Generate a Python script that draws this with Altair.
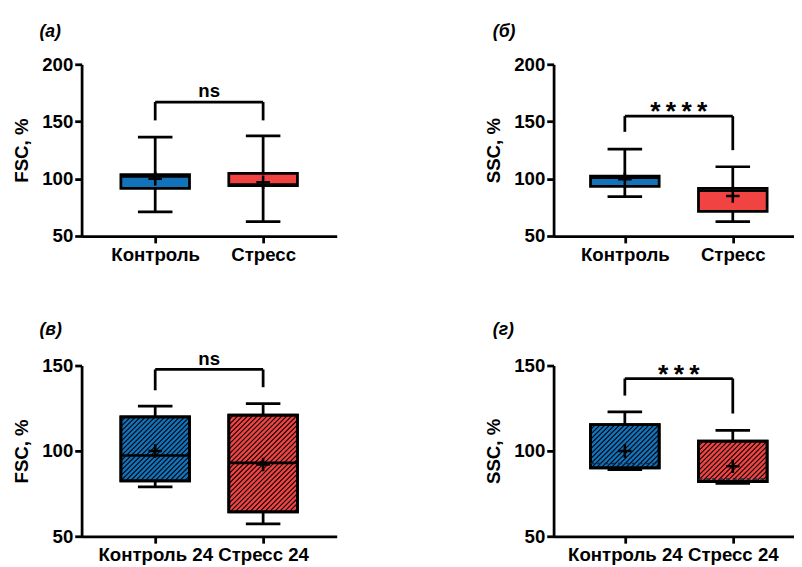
import altair as alt
import pandas as pd

# ---------------- data ----------------
names_ab = ["Контроль", "Стресс"]
names_cd = ["Контроль 24", "Стресс 24"]

# panel (a) FSC
a_lo = [71.0, 62.5]
a_q1 = [91.6, 94.0]
a_med = [102.0, 95.0]
a_q3 = [103.6, 104.7]
a_hi = [136.3, 137.5]
a_mean = [100.0, 97.0]

# panel (б) SSC
b_lo = [84.3, 62.5]
b_q1 = [93.3, 71.5]
b_med = [101.0, 89.5]
b_q3 = [102.3, 91.6]
b_hi = [126.0, 110.5]
b_mean = [99.5, 85.0]

# panel (в) FSC 24
c_lo = [79.0, 57.3]
c_q1 = [82.5, 64.3]
c_med = [97.3, 93.0]
c_q3 = [120.0, 121.0]
c_hi = [126.2, 127.7]
c_mean = [100.0, 92.0]

# panel (г) SSC 24
d_lo = [89.0, 81.0]
d_q1 = [90.0, 82.0]
d_med = [92.6, 83.6]
d_q3 = [115.4, 105.7]
d_hi = [122.9, 112.0]
d_mean = [100.0, 91.0]

# significance brackets: [bracket level, left leg end, right leg end, text baseline level]
a_sig = [167.0, 151.0, 151.0, 171.2]
b_sig = [154.7, 141.0, 125.0, 151.2]
c_sig = [147.7, 135.5, 137.3, 150.6]
d_sig = [142.4, 132.4, 121.9, 140.0]
sig_text = ["ns", "*\u2009*\u2009*\u2009*", "ns", "*\u2009*\u2009*"]
sig_size = [19, 27, 19, 27]

panel_labels = ["(a)", "(б)", "(в)", "(г)"]
y_titles = ["FSC, %", "SSC, %", "FSC, %", "SSC, %"]

BLUE = "#1272BA"
RED = "#F24343"
FONT = "Liberation Sans"

HW = 0.318   # box half width (x units)
CW = 0.16    # cap half width
PPX = 110.0  # px per x unit


def hatch_segments(q1, q3, ppy, spacing=5.0):
    rows = []
    for i in range(2):
        W = 2 * HW * PPX
        H = (q3[i] - q1[i]) * ppy
        c = -H
        while c < W:
            u0 = max(0.0, c)
            u1 = min(W, H + c)
            if u1 - u0 > 0.5:
                rows.append({
                    "x": i - HW + u0 / PPX,
                    "y": q1[i] + (u0 - c) / ppy,
                    "x2": i - HW + u1 / PPX,
                    "y2": q1[i] + (u1 - c) / ppy,
                })
            c += spacing
    return pd.DataFrame(rows)


def panel(names, lo, q1, med, q3, hi, mean, sig, txt, tsize, label, ytitle,
          ydom, yvals, width, height, xdom, title_dx, title_off,
          hatched, dashed_median):
    df = pd.DataFrame({"name": names, "xi": [0, 1], "lo": lo, "q1": q1,
                       "med": med, "q3": q3, "hi": hi, "mean": mean})
    lab0, lab1 = names
    xaxis = alt.Axis(values=[0, 1], title=None, grid=False, labelOverlap=False,
                     labelExpr=f"datum.value == 0 ? '{lab0}' : '{lab1}'")
    yaxis = alt.Axis(values=yvals, title=ytitle, grid=False, labelOverlap=False)
    xs = alt.Scale(domain=xdom, nice=False, zero=False)
    ys = alt.Scale(domain=ydom, nice=False, zero=False)

    def X(f):
        return alt.X(f, type="quantitative", scale=xs, axis=xaxis)

    def Y(f):
        return alt.Y(f, type="quantitative", scale=ys, axis=yaxis)

    base = alt.Chart(df).transform_calculate(
        xa=f"datum.xi - {HW}", xb=f"datum.xi + {HW}",
        ca=f"datum.xi - {CW}", cb=f"datum.xi + {CW}")

    rule = dict(color="black", strokeWidth=2.8)
    w_lo = base.mark_rule(**rule).encode(x=X("xi"), y=Y("lo"), y2="q1:Q")
    w_hi = base.mark_rule(**rule).encode(x=X("xi"), y=Y("q3"), y2="hi:Q")
    c_lo_ = base.mark_rule(**rule).encode(x=X("ca"), x2="cb:Q", y=Y("lo"))
    c_hi_ = base.mark_rule(**rule).encode(x=X("ca"), x2="cb:Q", y=Y("hi"))
    box = base.mark_rect(stroke="black", strokeWidth=2.8).encode(
        x=X("xa"), x2="xb:Q", y=Y("q1"), y2="q3:Q",
        color=alt.Color("name:N", scale=alt.Scale(domain=names, range=[BLUE, RED]),
                        legend=None))
    layers = [w_lo, w_hi, c_lo_, c_hi_, box]
    if hatched:
        hd = hatch_segments(q1, q3, height / (ydom[1] - ydom[0]))
        layers.append(alt.Chart(hd).mark_rule(color="black", strokeWidth=1.1).encode(
            x=X("x"), y=Y("y"), x2="x2:Q", y2="y2:Q"))
        layers.append(base.mark_rect(stroke="black", strokeWidth=2.8, fillOpacity=0).encode(
            x=X("xa"), x2="xb:Q", y=Y("q1"), y2="q3:Q"))
    if dashed_median:
        med_mark = base.mark_rule(color="#0d2a4a", strokeWidth=1.6, strokeDash=[4, 3])
    else:
        med_mark = base.mark_rule(color="black", strokeWidth=2.6)
    layers.append(med_mark.encode(x=X("xa"), x2="xb:Q", y=Y("med")))
    layers.append(base.mark_point(shape="M-1,0H1M0,-1V1", size=190, filled=False,
                                  color="black", strokeWidth=2.6, opacity=1).encode(
        x=X("xi"), y=Y("mean")))

    br = pd.DataFrame({"x": [0, 0, 1], "x2": [0, 1, 1],
                       "y": [sig[1], sig[0], sig[2]], "y2": [sig[0], sig[0], sig[0]]})
    layers.append(alt.Chart(br).mark_rule(color="black", strokeWidth=2.8).encode(
        x=X("x"), x2="x2:Q", y=Y("y"), y2="y2:Q"))
    tdf = pd.DataFrame({"x": [0.5], "y": [sig[3]], "t": [txt]})
    layers.append(alt.Chart(tdf).mark_text(font=FONT, fontWeight="bold", fontSize=tsize,
                                           baseline="alphabetic", color="black").encode(
        x=X("x"), y=Y("y"), text="t:N"))

    return alt.layer(*layers).properties(
        width=width, height=height,
        title=alt.TitleParams(text=label, anchor="start", frame="group", dx=title_dx,
                              offset=title_off, font=FONT, fontSize=18,
                              fontStyle="italic", fontWeight="bold", color="black"))


pa = panel(names_ab, a_lo, a_q1, a_med, a_q3, a_hi, a_mean, a_sig, sig_text[0], sig_size[0],
           panel_labels[0], y_titles[0], [50, 200], [50, 100, 150, 200],
           260, 175, [-0.682, 1.682], -43, 15, False, False)
pb = panel(names_ab, b_lo, b_q1, b_med, b_q3, b_hi, b_mean, b_sig, sig_text[1], sig_size[1],
           panel_labels[1], y_titles[1], [50, 200], [50, 100, 150, 200],
           245, 175, [-0.66, 1.567], -62, 15, False, False)
pc = panel(names_cd, c_lo, c_q1, c_med, c_q3, c_hi, c_mean, c_sig, sig_text[2], sig_size[2],
           panel_labels[2], y_titles[2], [50, 150], [50, 100, 150],
           260, 174, [-0.682, 1.682], -43, 11, True, False)
pd_ = panel(names_cd, d_lo, d_q1, d_med, d_q3, d_hi, d_mean, d_sig, sig_text[3], sig_size[3],
            panel_labels[3], y_titles[3], [50, 150], [50, 100, 150],
            245, 174, [-0.66, 1.567], -62, 18, True, True)

top = alt.hconcat(pa, pb, spacing=151)
bottom = alt.hconcat(pc, pd_, spacing=151)

chart = alt.vconcat(top, bottom, spacing=57).properties(
    padding={"left": 5, "top": 10, "right": 0, "bottom": 0}
).configure_view(strokeWidth=0).configure_axis(
    domainColor="black", domainWidth=2.8, tickColor="black", tickWidth=2.8,
    tickSize=7, labelFont=FONT, labelFontWeight="bold", labelFontSize=19,
    labelColor="black", labelPadding=2, titleFont=FONT, titleFontWeight="bold",
    titleFontSize=19, titleColor="black", titlePadding=10
).configure_axisX(labelPadding=3)

chart.save("out.html", embed_options={"renderer": "svg", "actions": False})
